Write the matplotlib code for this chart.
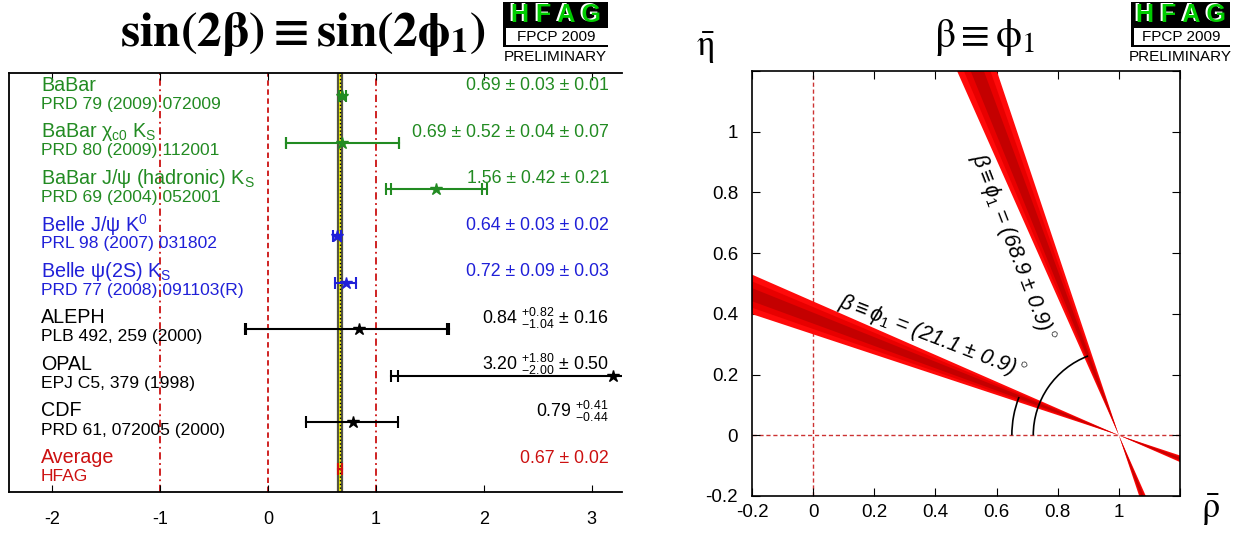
import numpy as np
import matplotlib
matplotlib.use('Agg')
import matplotlib.pyplot as plt
from matplotlib.patches import Polygon, Arc, Rectangle
import matplotlib.transforms as mtransforms

plt.rcParams['font.family'] = ['Liberation Sans', 'DejaVu Sans']
plt.rcParams['mathtext.fontset'] = 'custom'
plt.rcParams['mathtext.rm'] = 'Liberation Sans'
plt.rcParams['mathtext.it'] = 'Liberation Sans:italic'
plt.rcParams['mathtext.bf'] = 'Liberation Sans:bold'
plt.rcParams['axes.unicode_minus'] = False

# ---- data: sin(2beta) measurements ----
names = ['BaBar', r'BaBar χ$_{\rm c0}$ K$_{\rm S}$', r'BaBar J/ψ (hadronic) K$_{\rm S}$',
         r'Belle J/ψ K$^{\rm 0}$', r'Belle ψ(2S) K$_{\rm S}$',
         'ALEPH', 'OPAL', 'CDF', 'Average']
refs = ['PRD 79 (2009) 072009', 'PRD 80 (2009) 112001', 'PRD 69 (2004) 052001',
        'PRL 98 (2007) 031802', 'PRD 77 (2008) 091103(R)',
        'PLB 492, 259 (2000)', 'EPJ C5, 379 (1998)', 'PRD 61, 072005 (2000)', 'HFAG']
central = [0.69, 0.69, 1.56, 0.64, 0.72, 0.84, 3.20, 0.79, 0.67]
stat_hi = [0.03, 0.52, 0.42, 0.03, 0.09, 0.82, 1.80, 0.41, 0.02]
stat_lo = [0.03, 0.52, 0.42, 0.03, 0.09, 1.04, 2.00, 0.44, 0.02]
syst = [0.01, 0.0806, 0.21, 0.02, 0.03, 0.16, 0.50, 0.0, 0.0]
val_text = [r'0.69 ± 0.03 ± 0.01', r'0.69 ± 0.52 ± 0.04 ± 0.07', r'1.56 ± 0.42 ± 0.21',
            r'0.64 ± 0.03 ± 0.02', r'0.72 ± 0.09 ± 0.03',
            r'0.84 $^{+0.82}_{-1.04}$ ± 0.16', r'3.20 $^{+1.80}_{-2.00}$ ± 0.50',
            r'0.79 $^{+0.41}_{-0.44}$', r'0.67 ± 0.02']
groups = ['babar', 'babar', 'babar', 'belle', 'belle', 'other', 'other', 'other', 'avg']
group_color = {'babar': '#228b22', 'belle': '#2020d8', 'other': 'black', 'avg': '#cc1111'}
avg_val, avg_err = 0.67, 0.02

# ---- data: beta angle ----
beta_deg = 21.1
beta_err = 0.9
sigma_levels = [3, 2, 1]
band_colors = ['#ff0a0a', '#e80000', '#c40000']

W, H = 1233, 537
fig = plt.figure(figsize=(W / 100, H / 100), dpi=100)


def fx(px):
    return px / W


def fy(py):
    return 1 - py / H


# ================= left panel =================
ax = fig.add_axes([fx(9), fy(492), fx(622 - 9), (492 - 73) / H])
ax.set_xlim(-2.4, 3.28)
ax.set_ylim(0, 9)

ax.axvspan(avg_val - avg_err, avg_val + avg_err, facecolor='#ffff00',
           edgecolor='#555544', lw=1.6, zorder=1)
ax.axvline(avg_val, color='black', ls=':', lw=1, zorder=1)
ax.axvline(-1, color='#cc1111', ls=(0, (4, 2, 1, 2)), lw=1.3, zorder=0)
ax.axvline(0, color='#cc1111', ls=(0, (3, 2)), lw=1.3, zorder=0)
ax.axvline(1, color='#cc1111', ls=(0, (4, 2, 1, 2)), lw=1.3, zorder=0)

blend = mtransforms.blended_transform_factory(ax.transAxes, ax.transData)
for i in range(len(names)):
    y = 8.5 - i
    c = group_color[groups[i]]
    x0 = central[i]
    tot_hi = np.hypot(stat_hi[i], syst[i])
    tot_lo = np.hypot(stat_lo[i], syst[i])
    ax.plot([x0 - tot_lo, x0 + tot_hi], [y, y], color=c, lw=1.5, zorder=3)
    caps = [x0 - tot_lo, x0 + tot_hi]
    if syst[i] > 0.05:
        caps += [x0 - stat_lo[i], x0 + stat_hi[i]]
    ax.plot(caps, [y] * len(caps), ls='none', marker='|', ms=9, mew=1.5,
            color=c, zorder=3)
    if groups[i] != 'avg':
        ax.plot([x0], [y], ls='none', marker='*', ms=9, color=c, zorder=4,
                clip_on=False)
    ax.text(0.052, y + 0.24, names[i], transform=blend, color=c, fontsize=14.2,
            ha='left', va='center')
    ax.text(0.052, y - 0.17, refs[i], transform=blend, color=c, fontsize=12.6,
            ha='left', va='center')
    ax.text(0.979, y + 0.23, val_text[i], transform=blend, color=c, fontsize=12.8,
            ha='right', va='center')

ax.set_xticks([-2, -1, 0, 1, 2, 3])
ax.set_yticks([])
ax.tick_params(axis='x', direction='in', length=5, top=True, labelsize=13, pad=14)
ax.spines['right'].set_visible(False)
for s in ['top', 'bottom']:
    ax.spines[s].set_linestyle((0, (2, 1)))
    ax.spines[s].set_linewidth(1.3)
ax.spines['left'].set_linewidth(1.3)

fig.text(fx(303), fy(34), r'$\mathbf{sin(2\beta) \equiv sin(2\phi_1)}$',
         math_fontfamily='stix', fontsize=35.5, ha='center', va='center')


def hfag_logo(xl, xr):
    # black box with HFAG, white box with FPCP 2009, PRELIMINARY below
    fig.patches.append(Rectangle((fx(xl), fy(28)), fx(xr - xl), 26 / H,
                                 transform=fig.transFigure, facecolor='black',
                                 edgecolor='none'))
    fig.patches.append(Rectangle((fx(xl), fy(47)), fx(3), 19 / H,
                                 transform=fig.transFigure, facecolor='black',
                                 edgecolor='none'))
    fig.patches.append(Rectangle((fx(xl), fy(47)), fx(xr - xl), 2 / H,
                                 transform=fig.transFigure, facecolor='black',
                                 edgecolor='none'))
    xc = (xl + xr) / 2
    fig.text(fx(xc - 1.5), fy(14), 'H F A G', color='white', fontsize=18,
             fontweight='bold', ha='center', va='center')
    fig.text(fx(xc), fy(15), 'H F A G', color='#00cc00', fontsize=18,
             fontweight='bold', ha='center', va='center')
    fig.text(fx(xc + 1), fy(37), 'FPCP 2009', color='black', fontsize=11,
             ha='center', va='center')
    fig.text(fx(xc), fy(57), 'PRELIMINARY', color='black', fontsize=11,
             ha='center', va='center')


hfag_logo(503, 608)
hfag_logo(1131, 1230)

# ================= right panel =================
bx = fig.add_axes([fx(752), fy(496), fx(1180 - 752), (496 - 71) / H])
bx.set_xlim(-0.2, 1.2)
bx.set_ylim(-0.2, 1.2)

apex = np.array([1.0, 0.0])
L = 4.0
for ang in [beta_deg, 90 - beta_deg]:
    for k, col in zip(sigma_levels, band_colors):
        a1 = np.radians(ang - k * beta_err)
        a2 = np.radians(ang + k * beta_err)
        d1 = np.array([-np.cos(a1), np.sin(a1)])
        d2 = np.array([-np.cos(a2), np.sin(a2)])
        for sgn in [1, -1]:
            bx.add_patch(Polygon([apex, apex + sgn * L * d1, apex + sgn * L * d2],
                                 closed=True, facecolor=col, edgecolor='none',
                                 zorder=2))

bx.axvline(0, color='#cc3333', ls=(0, (3, 2)), lw=1, zorder=1)
bx.axhline(0, color='#cc3333', ls=(0, (3, 2)), lw=1, zorder=1)

bx.add_patch(Arc(apex, 0.70, 0.70, theta1=180 - beta_deg, theta2=180,
                 color='black', lw=1.2, zorder=3))
bx.add_patch(Arc(apex, 0.56, 0.56, theta1=180 - (90 - beta_deg), theta2=180,
                 color='black', lw=1.2, zorder=3))

bx.text(0.39, 0.322, r'$\beta \equiv \phi_1$ = (%.1f ± %.1f)$^\circ$' % (beta_deg, beta_err),
        rotation=-beta_deg, rotation_mode='anchor', fontsize=15.5, style='italic',
        ha='center', va='center', zorder=4)
bx.text(0.652, 0.62, r'$\beta \equiv \phi_1$ = (%.1f ± %.1f)$^\circ$' % (90 - beta_deg, beta_err),
        rotation=-(90 - beta_deg), rotation_mode='anchor', fontsize=15.5, style='italic',
        ha='center', va='center', zorder=4)

ticks = [-0.2, 0, 0.2, 0.4, 0.6, 0.8, 1, 1.2]
labels = ['-0.2', '0', '0.2', '0.4', '0.6', '0.8', '1', '']
bx.set_xticks(ticks)
bx.set_xticklabels(labels)
bx.set_yticks(ticks)
bx.set_yticklabels(labels)
bx.tick_params(direction='in', length=6, top=True, right=True, labelsize=13.5)
bx.tick_params(axis='x', pad=6)
bx.tick_params(axis='y', pad=10)
for s in bx.spines.values():
    s.set_linewidth(1.2)

fig.text(fx(985), fy(38), r'$\mathrm{\beta \equiv \phi_1}$', math_fontfamily='stix',
         fontsize=30, ha='center', va='center')
fig.text(fx(705), fy(48), r'$\mathrm{\bar{\eta}}$', math_fontfamily='stix',
         fontsize=26, ha='center', va='center')
fig.text(fx(1210), fy(510), r'$\mathrm{\bar{\rho}}$', math_fontfamily='stix',
         fontsize=26, ha='center', va='center')

fig.savefig('out.png', dpi=100)
